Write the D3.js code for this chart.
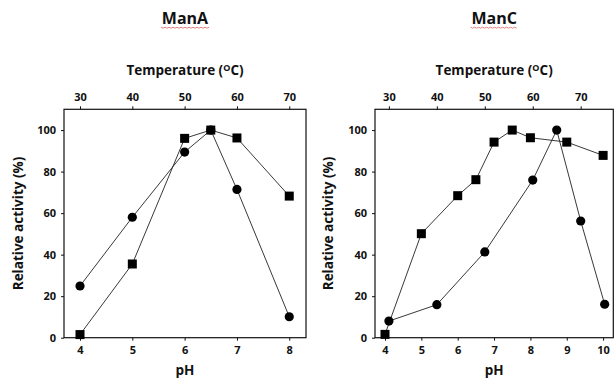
<!DOCTYPE html>
<html><head><meta charset="utf-8">
<script src="https://cdn.jsdelivr.net/npm/d3@7"></script>
<style>
body{margin:0;background:#fff;}
text{font-family:"Open Sans",sans-serif;font-weight:bold;fill:#111;}
</style></head>
<body><svg id="c" width="615" height="389"></svg>
<script>
// ManA
const manA_pH = [4, 5, 6, 6.5, 7, 8];
const manA_pHActivity = [1.5, 35.5, 96, 100, 96.2, 68.2];
const manA_temp = [30, 40, 50, 55, 60, 70];
const manA_tempActivity = [24.9, 58, 89.4, 100, 71.4, 10.1];
const manA_pHTicks = [4, 5, 6, 7, 8];
const manA_tempTicks = [30, 40, 50, 60, 70];
// ManC
const manC_pH = [4, 5, 6, 6.5, 7, 7.5, 8, 9, 10];
const manC_pHActivity = [1.6, 50.1, 68.4, 76.1, 94.2, 100, 96.3, 94.2, 87.8];
const manC_temp = [30, 40, 50, 60, 65, 70, 75];
const manC_tempActivity = [8, 15.9, 41.3, 75.9, 100, 56.2, 16.1];
const manC_pHTicks = [4, 5, 6, 7, 8, 9, 10];
const manC_tempTicks = [30, 40, 50, 60, 70];
const yTicks = [0, 20, 40, 60, 80, 100];

const svg = d3.select("#c");

function panel(o){
  const g = svg.append("g");
  const x = d3.scaleLinear().domain(o.pHDomain).range([o.x0, o.x1]);
  const xt = d3.scaleLinear().domain(o.tDomain).range([o.x0, o.x1]);
  const y = d3.scaleLinear().domain([0, 110]).range([337.7, 109.3]);

  // box
  g.append("rect").attr("x", o.x0).attr("y", y(110)).attr("width", o.x1 - o.x0)
    .attr("height", y(0) - y(110)).attr("fill", "none").attr("stroke", "#111").attr("stroke-width", 1.2);

  const ax = (sel) => { sel.select(".domain").remove(); sel.selectAll("line").attr("stroke", "#111");
    sel.selectAll("text").style("font-size", "11px"); };

  g.append("g").attr("transform", `translate(0,${y(0)})`)
    .call(d3.axisBottom(x).tickValues(o.pHTicks).tickSize(3).tickPadding(6).tickFormat(d3.format("d"))).call(ax);
  g.append("g").attr("transform", `translate(0,${y(110)})`)
    .call(d3.axisTop(xt).tickValues(o.tTicks).tickSize(3).tickPadding(5).tickFormat(d3.format("d"))).call(ax);
  g.append("g").attr("transform", `translate(${o.x0},0)`)
    .call(d3.axisLeft(y).tickValues(yTicks).tickSize(3).tickPadding(5)).call(ax);

  const line = (xs) => d3.line().x(d => xs(d[0])).y(d => y(d[1]));
  const pHData = o.pH.map((v, i) => [v, o.pHAct[i]]);
  const tData = o.t.map((v, i) => [v, o.tAct[i]]);

  g.append("path").datum(pHData).attr("d", line(x)).attr("fill", "none").attr("stroke", "#222").attr("stroke-width", 0.9);
  g.append("path").datum(tData).attr("d", line(xt)).attr("fill", "none").attr("stroke", "#222").attr("stroke-width", 0.9);

  g.selectAll(".sq").data(pHData).join("rect")
    .attr("x", d => x(d[0]) - 4.5).attr("y", d => y(d[1]) - 4.5)
    .attr("width", 9).attr("height", 9).attr("fill", "#000");
  g.selectAll(".ci").data(tData).join("circle")
    .attr("cx", d => xt(d[0])).attr("cy", d => y(d[1])).attr("r", 4.6).attr("fill", "#000");

  // labels
  const cx = (o.x0 + o.x1) / 2;
  g.append("text").attr("x", cx).attr("y", 24).attr("text-anchor", "middle")
    .style("font-size", "16px").text(o.title);
  const tw = o.title === "ManA" ? 48 : 47;
  // spell-check style squiggle
  const sq = [];
  for (let xx = cx - tw / 2; xx <= cx + tw / 2; xx += 2) sq.push([xx, 27.5 + ((Math.round((xx - cx) / 2) % 2) ? 0.7 : -0.3)]);
  g.append("path").attr("d", d3.line()(sq)).attr("fill", "none").attr("stroke", "#e06060").attr("stroke-width", 0.8);

  const tl = g.append("text").attr("x", cx).attr("y", 75).attr("text-anchor", "middle").style("font-size", "13.5px");
  tl.append("tspan").text("Temperature (");
  tl.append("tspan").attr("dy", -4).style("font-size", "9px").text("O");
  tl.append("tspan").attr("dy", 4).text("C)");

  g.append("text").attr("x", cx).attr("y", 375).attr("text-anchor", "middle").style("font-size", "13.5px").text("pH");
  g.append("text").attr("transform", `translate(${o.yl},223.5) rotate(-90)`).attr("text-anchor", "middle")
    .style("font-size", "13.5px").text("Relative activity (%)");
}

panel({title: "ManA", x0: 64, x1: 306, pHDomain: [3.694, 8.32], tDomain: [26.94, 73.2],
  pHTicks: manA_pHTicks, tTicks: manA_tempTicks, pH: manA_pH, pHAct: manA_pHActivity,
  t: manA_temp, tAct: manA_tempActivity, yl: 23});
panel({title: "ManC", x0: 375, x1: 613.3, pHDomain: [3.725, 10.28], tDomain: [27.1, 76.8],
  pHTicks: manC_pHTicks, tTicks: manC_tempTicks, pH: manC_pH, pHAct: manC_pHActivity,
  t: manC_temp, tAct: manC_tempActivity, yl: 333});
</script></body></html>
